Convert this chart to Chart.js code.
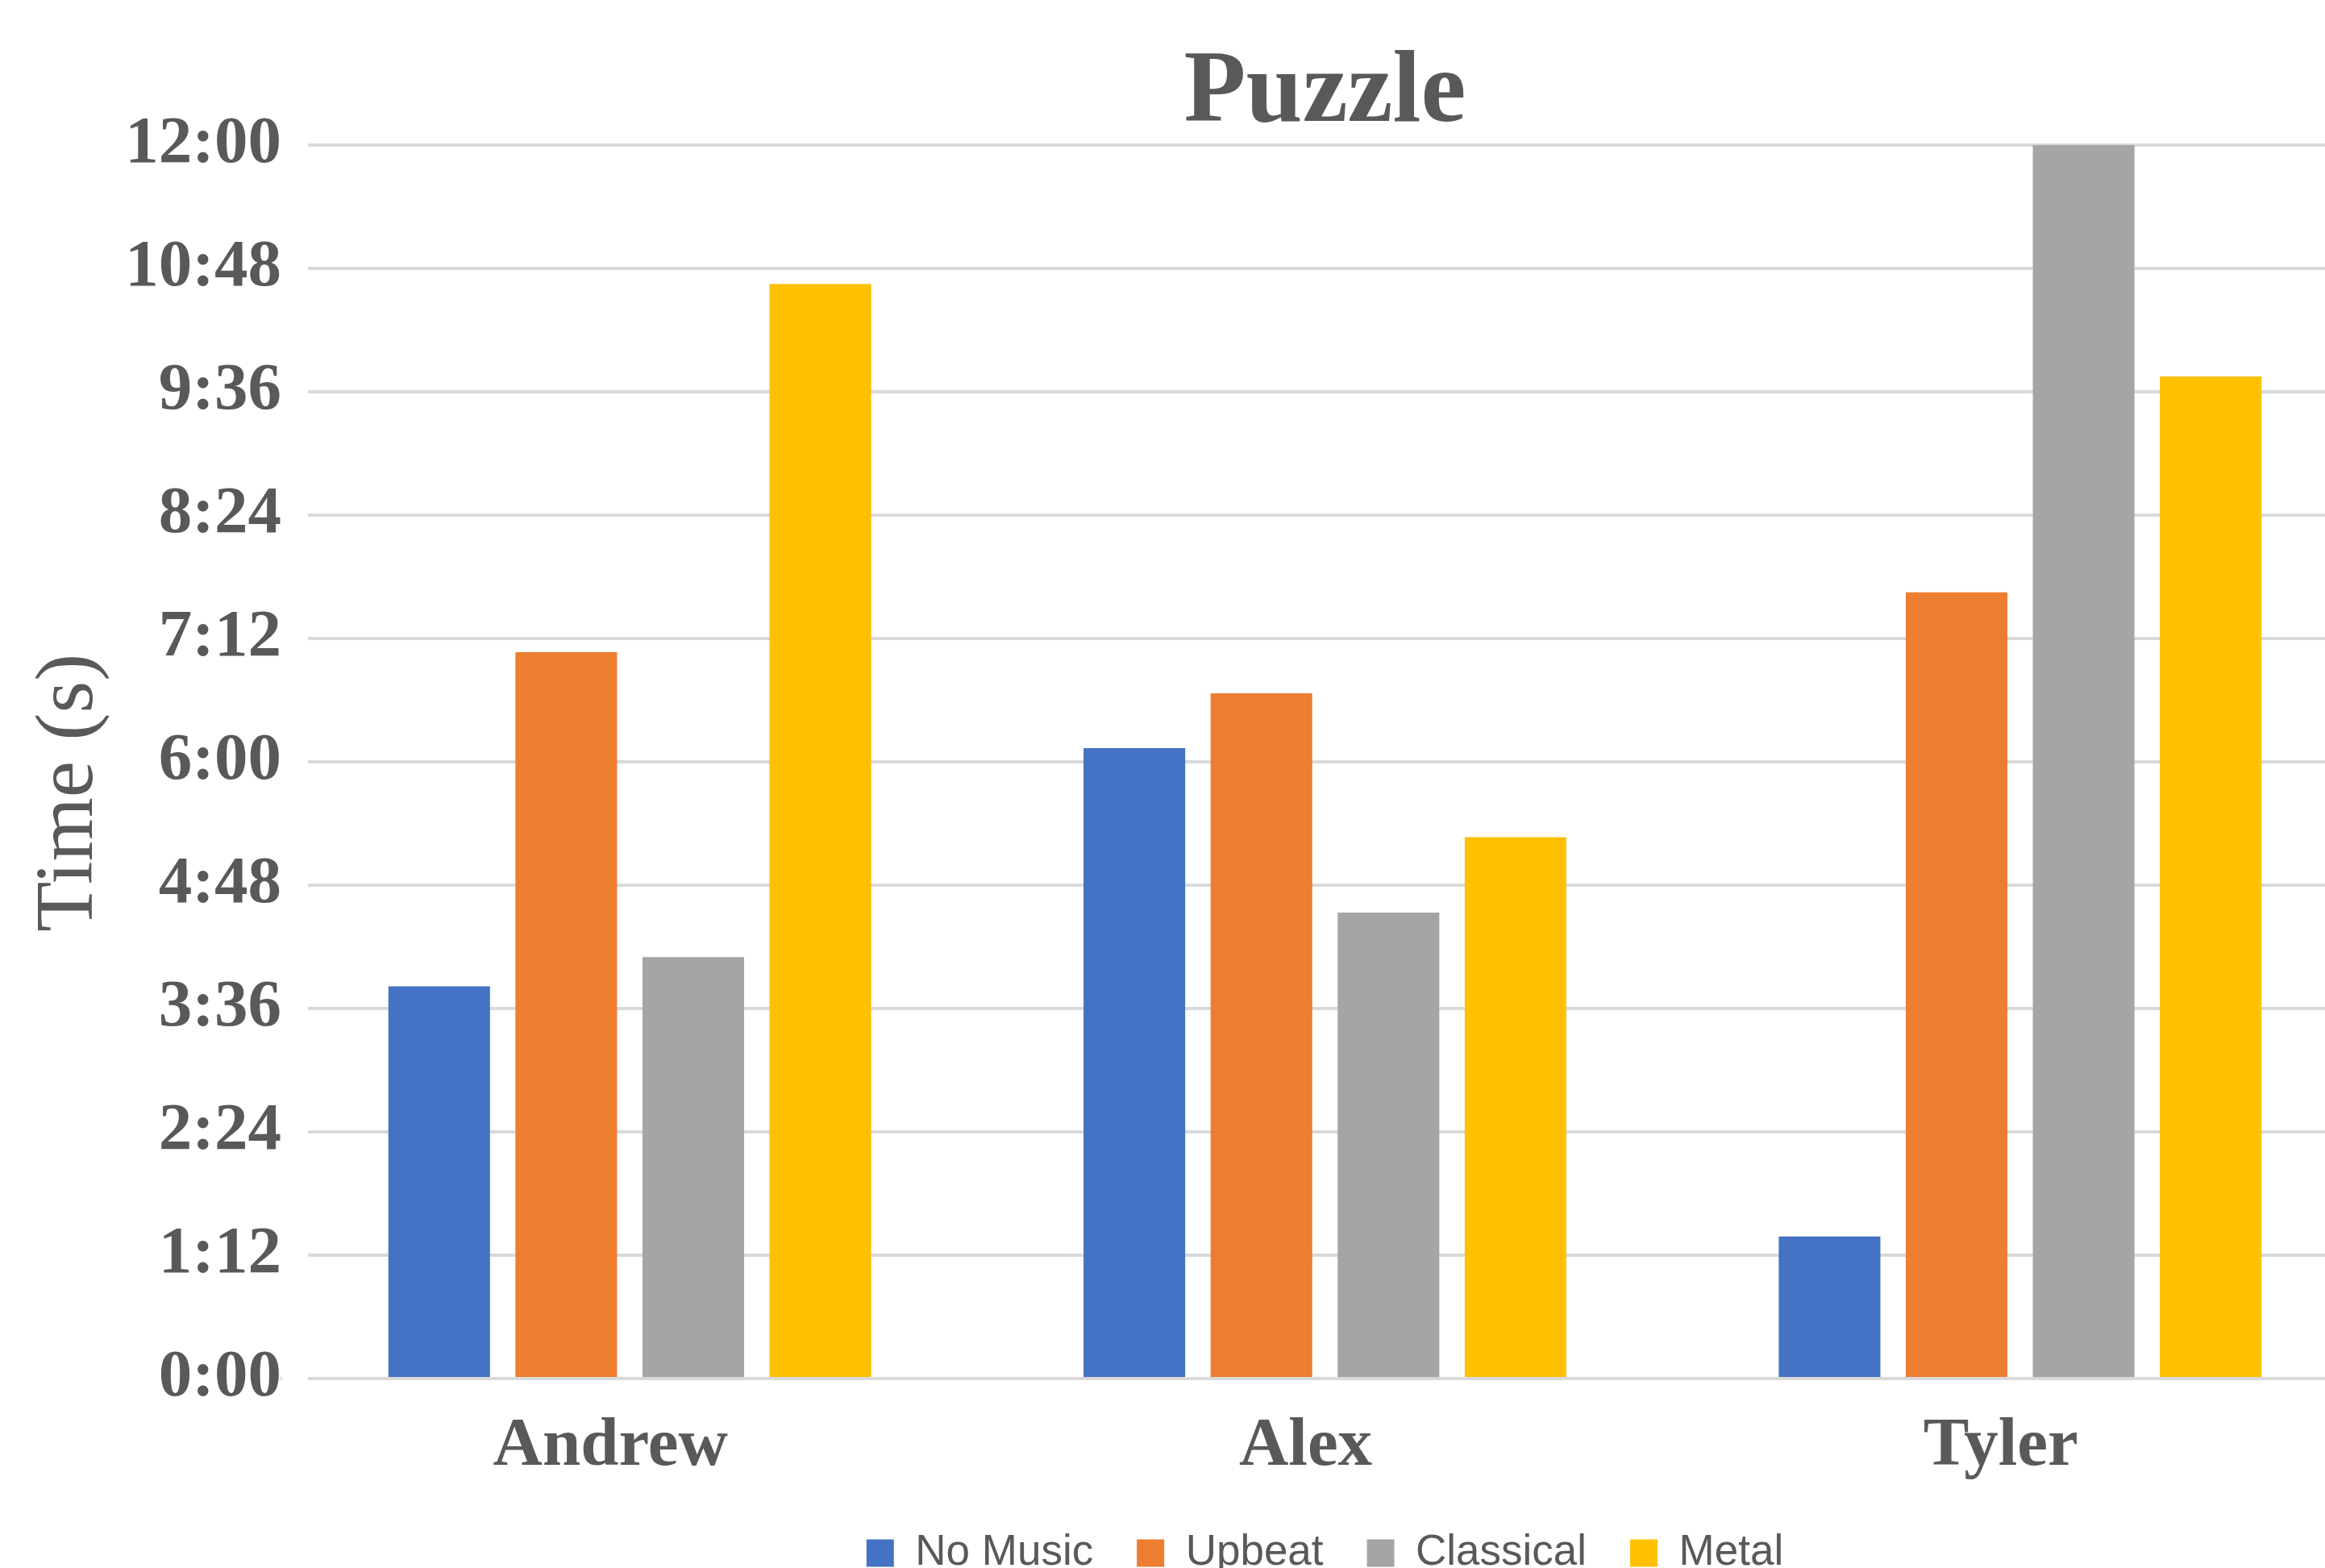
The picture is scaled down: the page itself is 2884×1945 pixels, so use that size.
<!DOCTYPE html>
<html>
<head>
  <title>Puzzle</title>
  <script src="https://cdn.jsdelivr.net/npm/chart.js@4.4.0/dist/chart.umd.min.js"></script>
  <style>
    html, body { margin: 0; padding: 0; background: #fff; overflow: hidden; }
    #wrap { position: relative; width: 2937px; height: 1963px; }
  </style>
</head>
<body>
  <div id="wrap"><canvas id="puzzleChart"></canvas></div>

  <script>
    // times in seconds
    var categories = ['Andrew', 'Alex', 'Tyler'];
    var seriesNames = ['No Music', 'Upbeat', 'Classical', 'Metal'];
    var noMusic   = [229, 368, 83];
    var upbeat    = [424, 400, 459];
    var classical = [246, 272, 720];
    var metal     = [639, 316, 585];
    var yTickLabels = ['0:00', '1:12', '2:24', '3:36', '4:48', '6:00', '7:12', '8:24', '9:36', '10:48', '12:00'];

    var colors = ['#4472C4', '#ED7D31', '#A5A5A5', '#FFC000'];
    var textColor = '#595959';
    var serif = "'Liberation Serif', 'Times New Roman', serif";

    var seriesValues = [noMusic, upbeat, classical, metal];
    var datasets = seriesNames.map(function(name, i) {
      return {
        label: name,
        data: seriesValues[i],
        backgroundColor: colors[i],
        borderWidth: 0,
        categoryPercentage: 0.731,
        barPercentage: 0.8
      };
    });

    // gridlines in the original start a little right of the plot edge
    var gridInset = {
      id: 'gridInset',
      beforeDatasetsDraw: function(chart) {
        var a = chart.chartArea;
        var c = chart.ctx;
        c.save();
        c.fillStyle = '#ffffff';
        c.fillRect(a.left, a.top - 4, 32, a.bottom - a.top + 8);
        c.restore();
      }
    };

    var ctx = document.getElementById('puzzleChart').getContext('2d');

    var puzzleChart = new Chart(ctx, {
      type: 'bar',
      data: { labels: categories, datasets: datasets },
      plugins: [gridInset],
      options: {
        responsive: true,
        maintainAspectRatio: false,
        animation: false,
        layout: { padding: 0 },
        plugins: {
          tooltip: { enabled: false },
          title: {
            display: true,
            text: 'Puzzle',
            fullSize: false,
            color: textColor,
            font: { family: serif, size: 126, weight: 'bold', lineHeight: 1 },
            padding: { top: 54, bottom: 0 }
          },
          legend: {
            position: 'bottom',
            fullSize: false,
            labels: {
              color: textColor,
              font: { family: "'Liberation Sans', Arial, sans-serif", size: 53 },
              boxWidth: 34,
              boxHeight: 34,
              padding: 54
            }
          }
        },
        scales: {
          x: {
            grid: { display: false, drawTicks: false },
            border: { display: true, color: '#d9d9d9', width: 4 },
            ticks: {
              color: textColor,
              padding: 34,
              labelOffset: -24,
              font: { family: serif, size: 85, weight: 'bold' }
            },
            afterFit: function(scale) { scale.height = 136; }
          },
          y: {
            min: 0,
            max: 720,
            grid: { color: '#d9d9d9', lineWidth: 4, drawTicks: false },
            border: { display: false },
            ticks: {
              stepSize: 72,
              color: textColor,
              padding: 1,
              font: { family: serif, size: 83, weight: 'bold' },
              callback: function(value, index) { return yTickLabels[index]; }
            },
            title: {
              display: true,
              text: 'Time (s)\u00a0\u00a0\u00a0',
              color: textColor,
              font: { family: serif, size: 102 },
              padding: { top: 26, bottom: 0 }
            },
            afterFit: function(scale) { scale.width = 350; }
          }
        }
      }
    });
  </script>
</body>
</html>
